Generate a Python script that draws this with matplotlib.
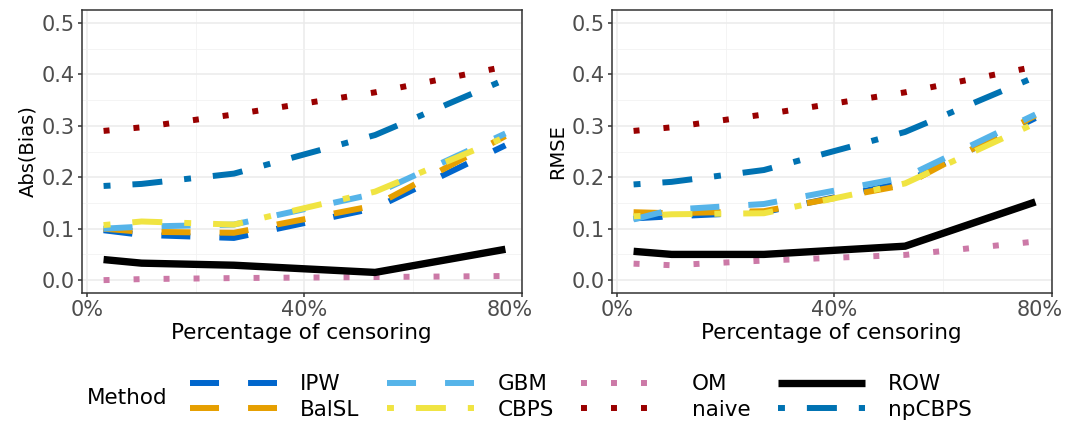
import matplotlib
matplotlib.use("Agg")
import matplotlib.pyplot as plt
from matplotlib.lines import Line2D
import matplotlib.transforms as mtransforms

# censoring percentages on the x axis
pct = [3, 10, 27, 53, 77]

methods = ["IPW", "BalSL", "GBM", "CBPS", "OM", "naive", "ROW", "npCBPS"]

# Abs(Bias) panel
bias_ipw = [0.097, 0.088, 0.082, 0.140, 0.262]
bias_balsl = [0.100, 0.094, 0.092, 0.145, 0.280]
bias_gbm = [0.100, 0.104, 0.108, 0.168, 0.285]
bias_cbps = [0.107, 0.114, 0.108, 0.172, 0.278]
bias_om = [0.000, 0.002, 0.004, 0.006, 0.008]
bias_naive = [0.290, 0.297, 0.322, 0.365, 0.415]
bias_row = [0.040, 0.033, 0.029, 0.015, 0.060]
bias_npcbps = [0.183, 0.187, 0.207, 0.282, 0.390]

# RMSE panel
rmse_ipw = [0.120, 0.124, 0.132, 0.190, 0.315]
rmse_balsl = [0.132, 0.130, 0.134, 0.185, 0.320]
rmse_gbm = [0.118, 0.137, 0.148, 0.200, 0.322]
rmse_cbps = [0.124, 0.128, 0.130, 0.188, 0.305]
rmse_om = [0.032, 0.029, 0.038, 0.049, 0.075]
rmse_naive = [0.290, 0.297, 0.322, 0.365, 0.415]
rmse_row = [0.056, 0.050, 0.050, 0.066, 0.152]
rmse_npcbps = [0.186, 0.191, 0.214, 0.288, 0.395]

bias = [bias_ipw, bias_balsl, bias_gbm, bias_cbps, bias_om, bias_naive, bias_row, bias_npcbps]
rmse = [rmse_ipw, rmse_balsl, rmse_gbm, rmse_cbps, rmse_om, rmse_naive, rmse_row, rmse_npcbps]

colors = ["#0066CC", "#E69F00", "#56B4E9", "#F0E442", "#CC79A7", "#990000", "#000000", "#0072B2"]

# dash patterns in points (not scaled with line width)
dashed = (0, (20.9, 20.9))
dotted = (0, (4.3, 17.3))
dotdash = (0, (5.0, 15.8, 21.6, 15.8))
styles = [dashed, dashed, dashed, dotdash, dotted, dotted, "-", dotdash]
widths = [4.3, 4.3, 4.3, 4.3, 4.3, 4.3, 5.3, 4.3]

plt.rcParams["font.family"] = "DejaVu Sans"
plt.rcParams["lines.scale_dashes"] = False

W, H = 1067, 425
fig = plt.figure(figsize=(W / 100, H / 100), dpi=100)

ax_w = 440.0 / W
ax_b = 1 - 293.0 / H
ax_h = 283.0 / H
ax1 = fig.add_axes([81.7 / W, ax_b, ax_w, ax_h])
ax2 = fig.add_axes([611.7 / W, ax_b, ax_w, ax_h])


def style_axis(ax, ylabel):
    ax.set_xlim(-1.03, 80)
    ax.set_ylim(-0.025, 0.525)
    ax.set_xticks([0, 40, 80])
    ax.set_xticklabels(["0%", "40%", "80%"])
    ax.set_xticks([20, 60], minor=True)
    ax.set_yticks([0, 0.1, 0.2, 0.3, 0.4, 0.5])
    ax.set_yticklabels(["0.0", "0.1", "0.2", "0.3", "0.4", "0.5"])
    ax.set_yticks([0.05, 0.15, 0.25, 0.35, 0.45], minor=True)
    ax.grid(which="major", color="#EBEBEB", lw=1.1)
    ax.grid(which="minor", color="#F2F2F2", lw=0.6)
    ax.set_axisbelow(True)
    for sp in ax.spines.values():
        sp.set_color("#333333")
        sp.set_linewidth(1.1)
    ax.tick_params(which="major", length=2.8, width=1.1, color="#333333",
                   labelcolor="#4D4D4D", labelsize=15, pad=2.5)
    ax.tick_params(which="minor", length=0)
    ax.set_xlabel("Percentage of censoring", fontsize=15.5, labelpad=2)
    ax.set_ylabel(ylabel, fontsize=14, labelpad=3)
    # last x label sits a bit left of its tick in the reference
    lab = ax.get_xticklabels()[-1]
    lab.set_transform(lab.get_transform() + mtransforms.ScaledTranslation(-12 / 100, 0, fig.dpi_scale_trans))


for ax, vals, ylab in [(ax1, bias, "Abs(Bias)"), (ax2, rmse, "RMSE")]:
    for m, y, c, ls, lw in zip(methods, vals, colors, styles, widths):
        ax.plot(pct, y, color=c, linestyle=ls, lw=lw, solid_capstyle="butt",
                dash_capstyle="butt", solid_joinstyle="miter", label=m)
    style_axis(ax, ylab)

handles = [Line2D([0], [0], color=c, linestyle=ls, lw=lw, dash_capstyle="butt",
                  solid_capstyle="butt") for c, ls, lw in zip(colors, styles, widths)]
fig.legend(handles, methods, ncol=4, loc="center left",
           bbox_to_anchor=(190 / W, 1 - 397 / H), frameon=False,
           fontsize=15.5, handlelength=4.05, handletextpad=1.07,
           columnspacing=1.28, labelspacing=0.25, borderpad=0, borderaxespad=0)
fig.text(87 / W, 1 - 398 / H, "Method", fontsize=15.5, ha="left", va="center")

fig.savefig("out.png", dpi=100)
